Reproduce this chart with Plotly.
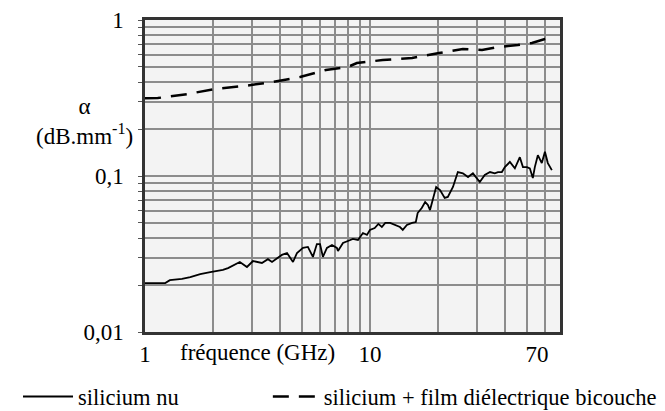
import plotly.graph_objects as go

# silicium nu (trait plein)
freq_nu = [1.00, 1.23, 1.29, 1.46, 1.59, 1.76, 1.95, 2.22, 2.34, 2.56,
           2.64, 2.84, 3.02, 3.31, 3.52, 3.67, 3.86, 4.06, 4.28, 4.55,
           4.74, 5.04, 5.30, 5.58, 5.81, 6.00, 6.18, 6.44, 6.78, 7.13,
           7.21, 7.59, 7.98, 8.40, 8.85, 9.31, 9.70, 10.0, 10.5, 10.9,
           11.3, 11.7, 12.3, 12.9, 13.6, 14.0, 14.6, 15.4, 16.0, 16.3,
           17.0, 17.6, 18.1, 18.5, 18.9, 19.7, 20.5, 21.5, 22.2, 23.4,
           24.6, 25.9, 27.3, 28.7, 30.8, 32.4, 34.2, 35.9, 37.1, 38.6,
           39.8, 41.9, 44.1, 46.4, 47.9, 49.9, 51.4, 53.0, 54.1, 55.8,
           58.1, 60.0, 61.8, 64.4]
alpha_nu = [0.0206, 0.0206, 0.0215, 0.0219, 0.0225, 0.0235, 0.0242, 0.0250, 0.0257, 0.0277,
            0.0281, 0.0261, 0.0285, 0.0277, 0.0293, 0.0281, 0.0298, 0.0312, 0.0321, 0.0281,
            0.0321, 0.0346, 0.0351, 0.0303, 0.0366, 0.0366, 0.0303, 0.0346, 0.0361, 0.0346,
            0.0331, 0.0372, 0.0383, 0.0395, 0.0389, 0.0431, 0.0419, 0.0451, 0.0464, 0.0493,
            0.0471, 0.0500, 0.0500, 0.0485, 0.0471, 0.0451, 0.0485, 0.0500, 0.0507, 0.0579,
            0.0624, 0.0681, 0.0652, 0.0605, 0.0681, 0.0850, 0.0813, 0.0723, 0.0734, 0.0850,
            0.106, 0.104, 0.0985, 0.104, 0.0915, 0.1015, 0.106, 0.104, 0.106, 0.106,
            0.114, 0.123, 0.112, 0.132, 0.114, 0.114, 0.112, 0.097, 0.114, 0.136,
            0.121, 0.143, 0.121, 0.109]

# silicium + film diélectrique bicouche (tirets)
freq_bi = [1.0, 1.14, 1.54, 2.05, 2.73, 3.67, 4.89, 6.37, 7.98, 8.75,
           11.4, 15.4, 20.3, 25.9, 31.5, 37.1, 45.5, 52.5, 60.0, 66.0]
alpha_bi = [0.315, 0.316, 0.335, 0.361, 0.377, 0.400, 0.431, 0.478, 0.500, 0.530,
            0.554, 0.571, 0.614, 0.652, 0.642, 0.671, 0.691, 0.712, 0.756, 0.778]

# grilles et graduations
x_grid = [1, 2, 3, 4, 5, 6, 7, 8, 9, 10, 20, 30, 40, 50, 60, 70]
x_text = ["1", "", "", "", "", "", "", "", "", "10", "", "", "", "", "", "70"]
y_grid = [0.01, 0.02, 0.03, 0.04, 0.05, 0.06, 0.07, 0.08, 0.09,
          0.1, 0.2, 0.3, 0.4, 0.5, 0.6, 0.7, 0.8, 0.9, 1]
y_text = ["0,01", "", "", "", "", "", "", "", "",
          "0,1", "", "", "", "", "", "", "", "", "1"]

police = dict(family="Liberation Serif, DejaVu Serif, Times New Roman, serif",
              size=23, color="black")

# le libellé "70" est décalé vers la gauche dans l'original
x_text = [t + "\u00a0" * 8 if t == "70" else t for t in x_text]

fig = go.Figure()
fig.add_trace(go.Scatter(x=freq_nu, y=alpha_nu, mode="lines", name="silicium nu",
                         line=dict(color="black", width=1.8), legend="legend"))
fig.add_trace(go.Scatter(x=freq_bi, y=alpha_bi, mode="lines",
                         name="silicium + film diélectrique bicouche",
                         line=dict(color="black", width=2.5, dash="16px,10px"),
                         legend="legend2"))

axe = dict(type="log", showline=True, mirror=True, linecolor="#333333", linewidth=2.5,
           showgrid=True, gridcolor="#8c8c8c", gridwidth=1.5, zeroline=False,
           tickfont=police, automargin=False, ticklabeloverflow="allow")

fig.update_xaxes(axe, range=[0, 1.8451], tickmode="array", tickvals=x_grid, ticktext=x_text,
                 ticks="", ticklabelstandoff=0)
fig.update_yaxes(axe, range=[-2, 0], tickmode="array", tickvals=y_grid, ticktext=y_text,
                 ticks="outside", ticklen=4, tickcolor="#555555", ticklabelstandoff=10)

fig.add_annotation(text="α<br>(dB.mm<sup>-1</sup>)", xref="paper", yref="paper",
                   x=-0.145, y=0.676, xanchor="center", yanchor="middle",
                   showarrow=False, font=police, align="center")
fig.add_annotation(text="fréquence (GHz)", xref="paper", yref="paper",
                   x=0.272, y=-0.067, xanchor="center", yanchor="middle",
                   showarrow=False, font=police)

legende = dict(orientation="h", xanchor="left", y=-0.208, yanchor="middle",
               font=dict(police, size=22.5), bgcolor="rgba(0,0,0,0)")

fig.update_layout(
    width=657, height=403,
    margin=dict(l=137, r=105, t=12, b=79, autoexpand=False),
    paper_bgcolor="white", plot_bgcolor="#f3f3f3",
    font=police,
    showlegend=True,
    legend=dict(legende, x=-0.306, itemwidth=50),
    legend2=dict(legende, x=0.296, itemwidth=46),
)

fig.write_html("out.html")
